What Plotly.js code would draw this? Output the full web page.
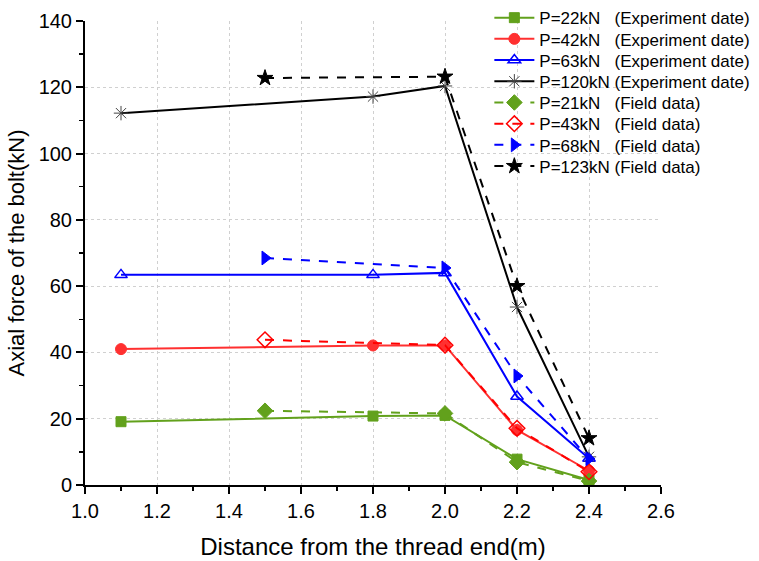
<!DOCTYPE html>
<html><head><meta charset="utf-8">
<script src="https://cdn.plot.ly/plotly-3.0.1.min.js"></script>
<style>body{margin:0;background:#fff}</style>
</head><body>
<div id="chart" style="width:759px;height:561px"></div>
<script>
const xExp = [1.1, 1.8, 2.0, 2.2, 2.4];
const xField = [1.5, 2.0, 2.2, 2.4];

const exp22 = [19.1, 20.8, 21.0, 7.8, 1.5];
const exp42 = [41.0, 42.1, 42.1, 16.6, 4.3];
const exp63 = [63.4, 63.4, 64.0, 26.7, 8.0];
const exp120 = [112.2, 117.2, 120.4, 53.7, 8.5];

const fld21 = [22.4, 21.6, 6.9, 1.2];
const fld43 = [43.8, 42.2, 17.1, 4.0];
const fld68 = [68.5, 65.5, 32.9, 7.9];
const fld123 = [122.8, 123.2, 60.0, 14.1];

const names = [
  'P=22kN\u00a0\u00a0\u00a0(Experiment date)',
  'P=42kN\u00a0\u00a0\u00a0(Experiment date)',
  'P=63kN\u00a0\u00a0\u00a0(Experiment date)',
  'P=120kN (Experiment date)',
  'P=21kN\u00a0\u00a0\u00a0(Field data)',
  'P=43kN\u00a0\u00a0\u00a0(Field data)',
  'P=68kN\u00a0\u00a0\u00a0(Field data)',
  'P=123kN (Field data)'
];

const green = '#62a11c', red = '#ff3030', blue = '#0000ff', black = '#000000';

function tr(x, y, name, color, dash, symbol, size, mcolor, mline) {
  return {
    x: x, y: y, name: name, type: 'scatter', mode: 'lines+markers',
    line: {color: color, width: 2, dash: dash},
    marker: {symbol: symbol, size: size, color: mcolor || color,
             line: {color: mcolor || color, width: mline || 1}}
  };
}

const data = [
  tr(xExp, exp22, names[0], green, 'solid', 'square', 10),
  tr(xExp, exp42, names[1], red, 'solid', 'circle', 11),
  tr(xExp, exp63, names[2], blue, 'solid', 'triangle-up-open', 11, null, 1.5),
  tr(xExp, exp120, names[3], black, 'solid', 'asterisk-open', 12, '#444', 1),
  tr(xField, fld21, names[4], green, 'dash', 'diamond', 12),
  tr(xField, fld43, names[5], '#ff0000', 'dash', 'diamond-open', 12, null, 1.5),
  tr(xField, fld68, names[6], blue, 'dash', 'triangle-right', 12),
  tr(xField, fld123, names[7], black, 'dash', 'star', 12)
];

const layout = {
  width: 759, height: 561,
  margin: {l: 85, r: 98, t: 21, b: 76, autoexpand: false},
  paper_bgcolor: '#fff', plot_bgcolor: '#fff',
  font: {family: 'Liberation Sans, Arial, sans-serif', color: '#000'},
  showlegend: true,
  legend: {x: 0.702, y: 1.045, xanchor: 'left', yanchor: 'top',
           font: {size: 17, color: '#000'}, bgcolor: 'rgba(0,0,0,0)',
           tracegroupgap: 0, itemwidth: 40},
  xaxis: {
    range: [1.0, 2.6], dtick: 0.2, tick0: 1.0, tickformat: '.1f',
    showline: true, linecolor: '#000', linewidth: 2,
    ticks: 'outside', ticklen: 7, tickwidth: 2, tickcolor: '#000',
    minor: {ticks: 'outside', ticklen: 4, tickwidth: 1.5, dtick: 0.1, tickcolor: '#000', showgrid: false},
    showgrid: true, gridcolor: '#d0d0d0', griddash: 'dot', gridwidth: 1,
    zeroline: false, tickfont: {size: 20}, automargin: false,
    title: {text: 'Distance from the thread end(m)', font: {size: 24}, standoff: 17}
  },
  yaxis: {
    range: [0, 140], dtick: 20,
    showline: true, linecolor: '#000', linewidth: 2,
    ticks: 'outside', ticklen: 7, tickwidth: 2, tickcolor: '#000',
    minor: {ticks: 'outside', ticklen: 4, tickwidth: 1.5, dtick: 10, tickcolor: '#000', showgrid: false},
    showgrid: true, gridcolor: '#d0d0d0', griddash: 'dot', gridwidth: 1,
    zeroline: false, tickfont: {size: 20}, automargin: false,
    title: {text: 'Axial force of the bolt(kN)', font: {size: 22}, standoff: 8}
  }
};

Plotly.newPlot('chart', data, layout, {displayModeBar: false, staticPlot: true}).then(function (gd) {
  // tighten legend row spacing to match the reference
  const rows = gd.querySelectorAll('.legend .traces');
  if (!rows.length) return;
  const m0 = /translate\(([-\d.]+),\s*([-\d.]+)\)/.exec(rows[0].getAttribute('transform'));
  if (!m0) return;
  const x0 = parseFloat(m0[1]), y0 = parseFloat(m0[2]);
  rows.forEach(function (r, i) {
    r.setAttribute('transform', 'translate(' + x0 + ',' + (y0 + 21.2 * i) + ')');
  });
});
</script>
</body></html>
